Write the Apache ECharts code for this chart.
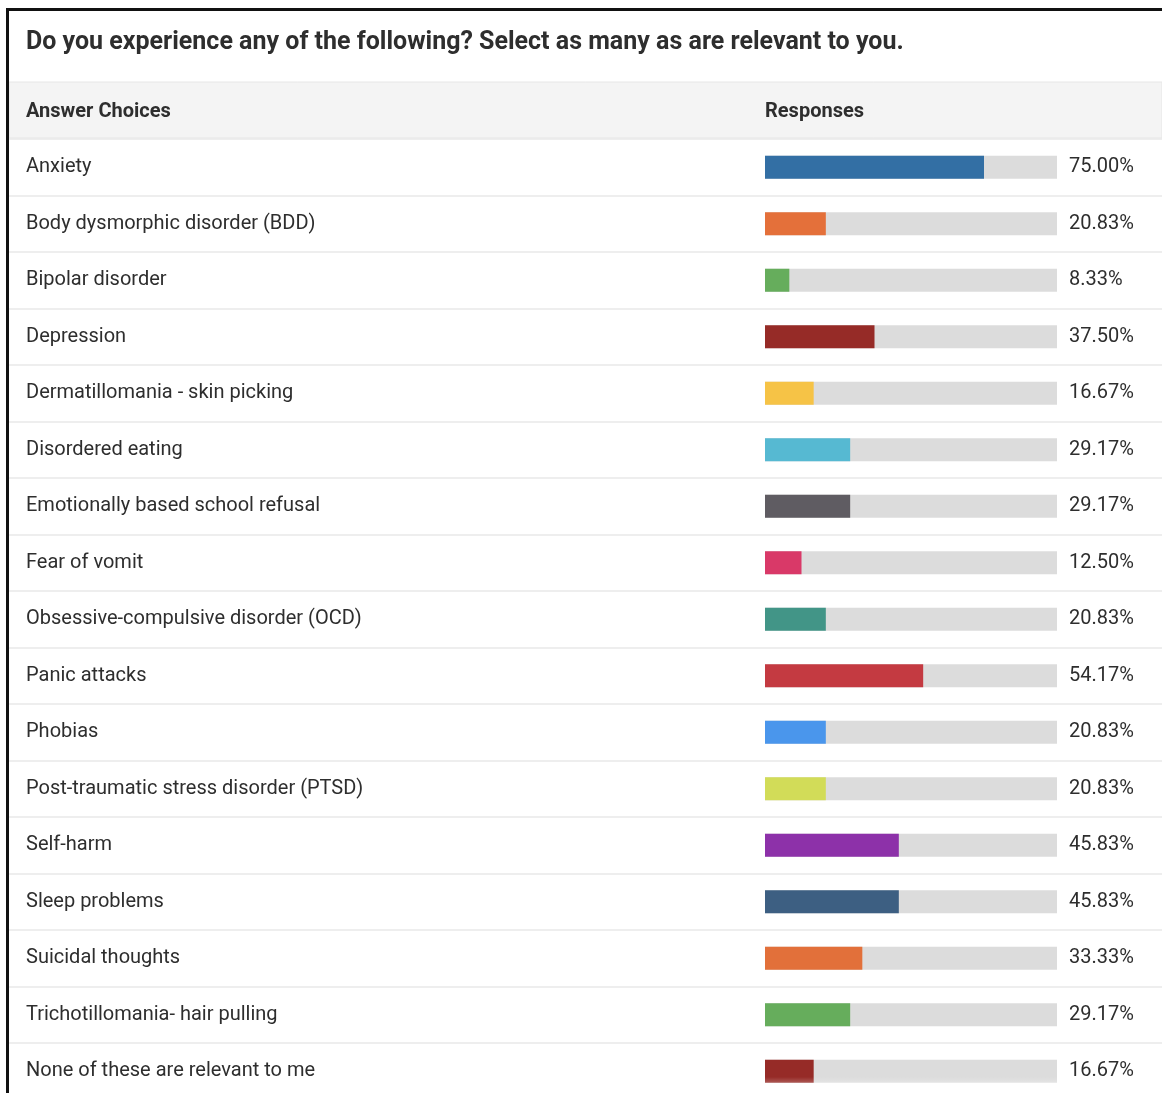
<!DOCTYPE html>
<html>
<head>
<meta charset="utf-8">
<title>Survey responses</title>
<script src="https://cdn.jsdelivr.net/npm/echarts@6/dist/echarts.min.js"></script>
<style>
  html, body { margin: 0; padding: 0; background: #fff; overflow: hidden; }
  #chart { width: 1162px; height: 1110px; }
</style>
</head>
<body>
<div id="chart"></div>
<script>
const titleText = 'Do you experience any of the following? Select as many as are relevant to you.'
const headerLabels = ['Answer Choices', 'Responses']

const answerChoices = [
  'Anxiety',
  'Body dysmorphic disorder (BDD)',
  'Bipolar disorder',
  'Depression',
  'Dermatillomania - skin picking',
  'Disordered eating',
  'Emotionally based school refusal',
  'Fear of vomit',
  'Obsessive-compulsive disorder (OCD)',
  'Panic attacks',
  'Phobias',
  'Post-traumatic stress disorder (PTSD)',
  'Self-harm',
  'Sleep problems',
  'Suicidal thoughts',
  'Trichotillomania- hair pulling',
  'None of these are relevant to me'
]
const responsePercents = [75.00, 20.83, 8.33, 37.50, 16.67, 29.17, 29.17, 12.50, 20.83, 54.17, 20.83, 20.83, 45.83, 45.83, 33.33, 29.17, 16.67]
const barColors = [
  '#336fa4', '#e4703a', '#66ad5c', '#962b27', '#f6c346', '#56b9d2',
  '#5f5c62', '#d93968', '#429587', '#c43a41', '#4a96ec', '#d2dc58',
  '#8d31a9', '#3d5f82', '#e2703a', '#66ad5c', '#962b27'
]

const font = 'Roboto, "Noto Sans", sans-serif'
const textColor = '#2e2e2e'
const rowTop = 139
const rowHeight = 56.5
const gridHeight = rowHeight * answerChoices.length

const chart = echarts.init(document.getElementById('chart'))

const option = {
  backgroundColor: '#fff',
  animation: false,
  title: {
    text: titleText,
    left: 26,
    top: 30,
    padding: 0,
    textStyle: { fontFamily: font, fontSize: 25, fontWeight: 'bold', color: textColor }
  },
  graphic: [
    {
      type: 'rect', z: -1,
      shape: { x: 9, y: 82, width: 1153, height: 56 },
      style: { fill: '#f4f4f4', stroke: '#e6e6e6', lineWidth: 1 }
    },
    {
      type: 'text', left: 26, top: 102,
      style: { text: headerLabels[0], font: 'bold 20px ' + font, fill: textColor }
    },
    {
      type: 'text', left: 765, top: 102,
      style: { text: headerLabels[1], font: 'bold 20px ' + font, fill: textColor }
    },
    {
      type: 'rect', z: 100,
      shape: { x: 9, y: 1077, width: 1153, height: 16 },
      style: {
        fill: new echarts.graphic.LinearGradient(0, 0, 0, 1, [
          { offset: 0, color: 'rgba(255,255,255,0)' },
          { offset: 1, color: 'rgba(255,255,255,0.6)' }
        ])
      }
    },
    {
      type: 'rect', z: 101,
      shape: { x: 6, y: 8, width: 1156, height: 3 },
      style: { fill: '#111' }
    },
    {
      type: 'rect', z: 101,
      shape: { x: 6, y: 8, width: 3, height: 1102 },
      style: { fill: '#111' }
    }
  ],
  grid: [
    { left: 9, right: 0, top: rowTop, height: gridHeight },
    { left: 765, width: 292, top: rowTop, height: gridHeight }
  ],
  xAxis: [
    { gridIndex: 0, type: 'value', min: 0, max: 100, show: false },
    { gridIndex: 1, type: 'value', min: 0, max: 100, show: false }
  ],
  yAxis: [
    {
      gridIndex: 0,
      type: 'category',
      inverse: true,
      data: answerChoices,
      axisLine: { show: false },
      axisTick: { show: false },
      splitLine: { show: true, lineStyle: { color: '#e8e8e8', width: 1.5 } },
      axisLabel: {
        inside: true,
        margin: 17,
        align: 'left',
        padding: [4, 0, 0, 0],
        fontFamily: font,
        fontSize: 20,
        color: textColor
      }
    },
    {
      gridIndex: 1,
      type: 'category',
      inverse: true,
      data: answerChoices,
      show: false
    },
    {
      gridIndex: 1,
      type: 'category',
      position: 'right',
      inverse: true,
      data: answerChoices,
      axisLine: { show: false },
      axisTick: { show: false },
      axisLabel: {
        margin: 12,
        align: 'left',
        padding: [4, 0, 0, 0],
        fontFamily: font,
        fontSize: 20,
        color: textColor,
        formatter: (v, i) => responsePercents[i].toFixed(2) + '%'
      }
    }
  ],
  series: [
    {
      type: 'bar',
      xAxisIndex: 1,
      yAxisIndex: 1,
      barWidth: 23,
      showBackground: true,
      backgroundStyle: { color: '#dcdcdc' },
      data: responsePercents.map((v, i) => ({ value: v, itemStyle: { color: barColors[i] } }))
    }
  ]
}

chart.setOption(option)
</script>
</body>
</html>
